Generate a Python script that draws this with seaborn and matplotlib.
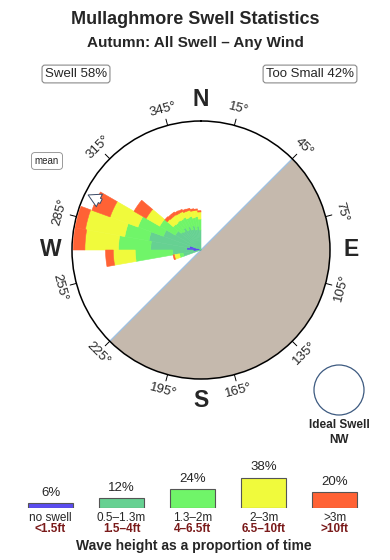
import numpy as np
import pandas as pd
import matplotlib
matplotlib.use("Agg")
import matplotlib.pyplot as plt
import seaborn as sns
from matplotlib.patches import Ellipse

# ---------------- data ----------------
dir_start = [250, 260, 270, 280, 290, 300, 310, 315, 320, 325, 330, 335, 340, 345, 350, 355]
dir_width = [10, 10, 10, 10, 10, 10, 5, 5, 5, 5, 5, 5, 5, 5, 5, 5]
no_swell = [0.0, 0.6, 1.1, 0.9, 0.3, 0.0, 0, 0, 0, 0, 0, 0, 0, 0, 0, 0]
h_05_13 = [1.4, 1.6, 2.8, 3.2, 2.8, 2.3, 2.0, 1.9, 2.1, 1.8, 2.0, 1.7, 1.95, 1.6, 1.85, 1.55]
h_13_2 = [0.3, 2.9, 2.5, 1.9, 2.1, 1.4, 0.8, 0.85, 0.7, 0.95, 0.8, 0.95, 0.75, 0.95, 0.75, 0.85]
h_2_3 = [0.4, 1.7, 2.6, 3.1, 2.3, 1.2, 0.6, 0.6, 0.55, 0.55, 0.5, 0.55, 0.5, 0.55, 0.5, 0.55]
h_3p = [0.1, 0.6, 0.9, 0.8, 1.5, 1.1, 0.25, 0.25, 0.25, 0.22, 0.18, 0.18, 0.15, 0.15, 0.1, 0.1]

cat_labels = ["no swell", "0.5\u20131.3m", "1.3\u20132m", "2\u20133m", ">3m"]
ft_labels = ["<1.5ft", "1.5\u20134ft", "4\u20136.5ft", "6.5\u201310ft", ">10ft"]
cat_pct = [6, 12, 24, 38, 20]
cat_colors = ["#5b4cf0", "#66d192", "#70f569", "#f0fa3c", "#ff6235"]

swell_pct = 58
small_pct = 42
tick_degs = [15, 45, 75, 105, 135, 165, 195, 225, 255, 285, 315, 345]
compass = {"N": 0, "E": 90, "S": 180, "W": 270}
blocked_from, blocked_to = 45, 225
mean_deg = 296

# ---------------- figure ----------------
sns.set_style("white")
plt.rcParams["font.family"] = ["Liberation Sans", "DejaVu Sans"]

fig = plt.figure(figsize=(3.9, 5.6), dpi=100)
W, H = 390.0, 560.0

def fx(px):
    return px / W

def fy(py):
    return 1 - py / H

# titles
fig.text(0.5, fy(20), "Mullaghmore Swell Statistics", ha="center", va="center",
         fontsize=13, fontweight="bold")
fig.text(0.5, fy(43), "Autumn: All Swell \u2013 Any Wind", ha="center", va="center",
         fontsize=11, fontweight="bold")

box = dict(boxstyle="round,pad=0.22", fc="white", ec="#8a8a8a", lw=0.8)
fig.text(fx(76), fy(74), f"Swell {swell_pct}%", ha="center", va="center", fontsize=9.5, bbox=box)
fig.text(fx(310), fy(74), f"Too Small {small_pct}%", ha="center", va="center", fontsize=9.5, bbox=box)
fig.text(fx(47), fy(161), "mean", ha="center", va="center", fontsize=7,
         bbox=dict(boxstyle="round,pad=0.35", fc="white", ec="#8a8a8a", lw=0.6))

# ---------------- polar rose ----------------
cx, cy, R = 201, 250, 129
ax = fig.add_axes([fx(cx - R), fy(cy + R), 2 * R / W, 2 * R / H], projection="polar")
ax.set_theta_zero_location("N")
ax.set_theta_direction(-1)
RMAX = 10.0
ax.set_autoscale_on(False)
ax.set_ylim(0, RMAX)
ax.set_xticks([])
ax.set_yticks([])
ax.grid(False)
ax.spines["polar"].set_linewidth(1.1)
ax.spines["polar"].set_color("black")
ax.set_facecolor("white")

# blocked (too small) half
ax.bar(np.deg2rad((blocked_from + blocked_to) / 2), RMAX,
       width=np.deg2rad(blocked_to - blocked_from), bottom=0,
       color="#c5b9ad", edgecolor="#c5b9ad", linewidth=0.3, zorder=1)
ax.plot([np.deg2rad(blocked_from), 0, np.deg2rad(blocked_to)], [RMAX, 0, RMAX],
        color="#9ec3e6", lw=0.9, zorder=2)

# stacked rose
theta = np.deg2rad(np.array(dir_start) + np.array(dir_width) / 2)
widths = np.deg2rad(np.array(dir_width))
layers = [no_swell, h_05_13, h_13_2, h_2_3, h_3p]
bottom = np.zeros(len(dir_start))
for vals, col in zip(layers, cat_colors):
    vals = np.array(vals, dtype=float)
    ax.bar(theta, vals, width=widths, bottom=bottom, color=col, edgecolor=col,
           linewidth=0.4, align="center", zorder=3)
    bottom = bottom + vals

# mean direction arrow
mean_dir = np.deg2rad(mean_deg)
ax.annotate("", xy=(mean_dir, RMAX * 0.995), xytext=(mean_dir, RMAX * 0.84),
            arrowprops=dict(arrowstyle="simple,head_length=0.9,head_width=1.0,tail_width=0.35",
                            fc="white", ec="#3a4a66", lw=0.7), zorder=5)

# ticks and degree labels
for d in tick_degs:
    t = np.deg2rad(d)
    ax.plot([t, t], [RMAX, RMAX * 1.05], color="black", lw=0.7, clip_on=False, zorder=4)
    rot = (-d) % 180
    if rot > 90:
        rot -= 180
    ax.text(t, RMAX * 1.13, f"{d}\u00b0", rotation=rot, rotation_mode="anchor",
            ha="center", va="center", fontsize=9.5, clip_on=False)

for lab, d in compass.items():
    ax.text(np.deg2rad(d), RMAX * 1.165, lab, ha="center", va="center",
            fontsize=16.5, fontweight="bold", clip_on=False)

ax.set_ylim(0, RMAX)

# ---------------- ideal swell ----------------
fig.patches.append(Ellipse((fx(339), fy(390)), 50 / W, 50 / H, transform=fig.transFigure,
                           fc="white", ec="#3d5a80", lw=0.9))
fig.text(fx(339), fy(425), "Ideal Swell", ha="center", va="center", fontsize=8.5, fontweight="bold")
fig.text(fx(339), fy(440), "NW", ha="center", va="center", fontsize=8.5, fontweight="bold")

# ---------------- legend bars (seaborn) ----------------
lax = fig.add_axes([fx(15), fy(508), 355 / W, 40 / H])
leg_df = pd.DataFrame({"cat": cat_labels, "pct": cat_pct})
sns.barplot(data=leg_df, x="cat", y="pct", hue="cat", palette=cat_colors, legend=False,
            width=0.634, edgecolor="#555555", linewidth=0.8, ax=lax, saturation=1)
lax.set_xlim(-0.5, 4.5)
lax.set_ylim(0, 50)
lax.axis("off")
for i, p in enumerate(cat_pct):
    lax.annotate(f"{p}%", xy=(i, p), xytext=(0, 3), textcoords="offset points",
                 ha="center", va="bottom", fontsize=9.5)

for i, (a, b) in enumerate(zip(cat_labels, ft_labels)):
    xc = 50.5 + i * 71.1
    fig.text(fx(xc), fy(518), a, ha="center", va="center", fontsize=8.5)
    fig.text(fx(xc), fy(529.5), b, ha="center", va="center", fontsize=8.5,
             fontweight="bold", color="#7a1a1a")

fig.text(fx(194), fy(546), "Wave height as a proportion of time", ha="center", va="center",
         fontsize=10, fontweight="bold")

fig.savefig("out.png", dpi=100)
